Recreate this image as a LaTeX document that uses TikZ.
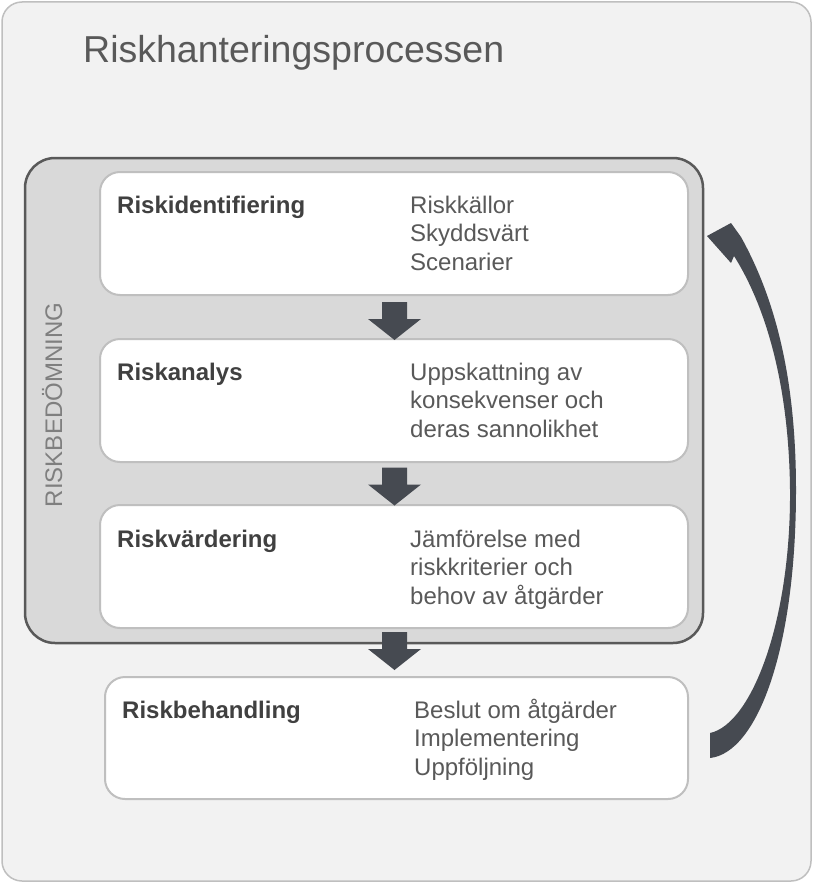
\documentclass[tikz,border=0pt]{standalone}
\usepackage{fontspec}
\setmainfont{Liberation Sans}
\usepackage{xcolor}
\usetikzlibrary{positioning}
\definecolor{framegray}{HTML}{BFBFBF}
\definecolor{backgray}{HTML}{F2F2F2}
\definecolor{groupgray}{HTML}{D9D9D9}
\definecolor{groupline}{HTML}{595959}
\definecolor{arrowgray}{HTML}{464A51}
\definecolor{textgray}{HTML}{595959}
\definecolor{labelgray}{HTML}{404040}
\definecolor{sidegray}{HTML}{7F7F7F}
\newcommand{\rhfont}[0]{\fontsize{24}{28.5}\selectfont}
\newcommand{\rhlines}[1]{\begin{tabular}[t]{@{}l@{}}#1\end{tabular}}
\tikzset{
  stepbox/.style={draw=framegray, line width=2pt, fill=white, rounded corners=20pt, minimum height=123pt, inner sep=0pt},
  steplabel/.style={anchor=base west, inner sep=0pt, font=\rhfont\bfseries, text=labelgray},
  stepnote/.style={anchor=base west, inner sep=0pt, font=\rhfont, text=textgray},
  downarrow/.style={fill=arrowgray}
}
\begin{document}
\begin{tikzpicture}[x=1pt, y=-1pt]
                        \useasboundingbox (0,0) rectangle (813,883);
                        \fill[white] (0,0) rectangle (813,883);
                        \draw[draw=framegray, fill=backgray, line width=1.5pt, rounded corners=20pt] (2,2) rectangle (811,881);
                        \node[anchor=base west, inner sep=0pt, font=\fontsize{37.5}{40}\selectfont, text=textgray] (title) at (83,63) {Riskhanteringsprocessen};
                        \node[draw=groupline, line width=2.5pt, fill=groupgray, rounded corners=30pt, minimum width=678pt, minimum height=485pt] (bedom) at (364,400.5) {};
                        \node[rotate=90, anchor=base, inner sep=0pt, font=\rhfont, text=sidegray] (bedomtext) at (62,405) {RISKBEDÖMNING};
                        \node[stepbox, minimum width=588pt] (ident) at (394,233.5) {};
                        \node[stepbox, minimum width=588pt] (analys) at (394,400.5) {};
                        \node[stepbox, minimum width=588pt] (varder) at (394,566.5) {};
                        \node[stepbox, minimum width=583pt, minimum height=122pt] (behand) at (396.5,738) {};
                        \node[steplabel] (identlabel) at (117,213) {Riskidentifiering};
                        \node[stepnote] (identnote) at (410,213) {\rhlines{Riskkällor\\Skyddsvärt\\Scenarier}};
                        \node[steplabel] (analyslabel) at (117,380) {Riskanalys};
                        \node[stepnote] (analysnote) at (410,380) {\rhlines{Uppskattning av\\konsekvenser och\\deras sannolikhet}};
                        \node[steplabel] (varderlabel) at (117,547) {Riskvärdering};
                        \node[stepnote] (vardernote) at (410,547) {\rhlines{Jämförelse med\\riskkriterier och\\behov av åtgärder}};
                        \node[steplabel] (behandlabel) at (122,718) {Riskbehandling};
                        \node[stepnote] (behandnote) at (414,718) {\rhlines{Beslut om åtgärder\\Implementering\\Uppföljning}};
                        \foreach \y/\n in {321/a, 486.5/b, 651/c} {
                            \coordinate (pil\n) at (394.5,\y);
                            \fill[downarrow] (pil\n) ++(-12.5,-19) -- ++(25,0) -- ++(0,17) -- ++(14,0)
                              -- ++(-26.5,21) -- ++(-26.5,-21) -- ++(14,0) -- cycle;
                        }
                        % loop back from Riskbehandling to Riskidentifiering
                        \fill[arrowgray] (710,758) .. controls (757,753) and (796,650) .. (796,490)
                          .. controls (796,380) and (776,300) .. (741,237)
                          -- (731,223) -- (707,236) -- (731,263) -- (734,256)
                          .. controls (768,310) and (789,390) .. (790,490)
                          .. controls (791,620) and (752,724) .. (710,733) -- cycle;
                    \end{tikzpicture}
\end{document}
